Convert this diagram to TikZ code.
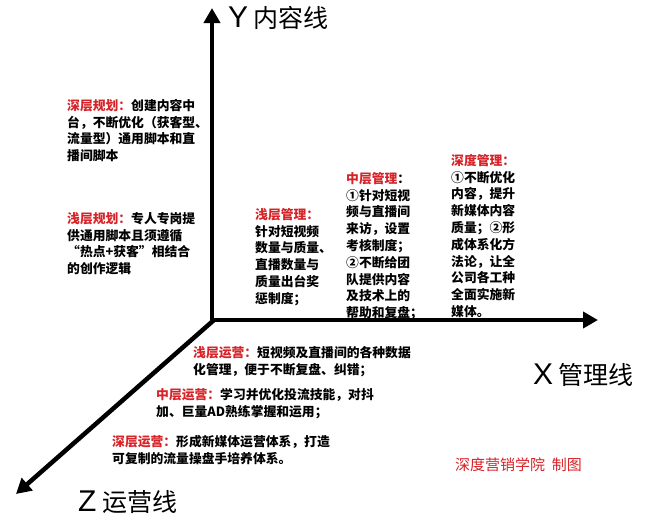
\documentclass[tikz,border=0pt]{standalone}
\usepackage{fontspec}
\setmainfont{Noto Sans CJK SC}
\newfontfamily\lab{Liberation Sans}
\usetikzlibrary{arrows.meta,calc}
\definecolor{rd}{RGB}{215,35,40}
\begin{document}
\begin{tikzpicture}[x=1pt,y=-1pt,
  axis/.style={line width=4.5pt,-{Triangle[length=15pt,width=16pt]}},
  txt/.style={anchor=north west,align=left,inner sep=0pt,font=\fontsize{12.8}{16.8}\selectfont\bfseries},
  big/.style={anchor=west,inner sep=0pt,font=\fontsize{25}{28}\selectfont}]
\useasboundingbox (0,0) rectangle (660,530);
\fill[white] (0,0) rectangle (660,530);
\coordinate (O) at (212,320);
\coordinate (Ye) at (212,8);
\coordinate (Xe) at (598,320);
\coordinate (Ze) at (16,494);
\draw[axis] (O) -- (Ye);
\draw[axis] (O) -- (Xe);
\draw[axis] ($(O)+(2,0)$) -- (Ze);
\node[big] (yl) at (228,18) {{\lab\fontsize{30}{30}\selectfont Y} 内容线};
\node[big] (xl) at (533,375) {{\lab\fontsize{30}{30}\selectfont X} 管理线};
\node[big] (zl) at (78,502) {{\lab\fontsize{30}{30}\selectfont Z} 运营线};
\node[anchor=west,inner sep=0pt,text=rd,font=\fontsize{15}{17}\selectfont] (cr) at (455,465) {深度营销学院\ \ 制图};
\node[txt] (a1) at (67,99) {\textcolor{rd}{深层规划：}创建内容中\\台，不断优化（获客型、\\流量型）通用脚本和直\\播间脚本};
\node[txt] (a2) at (67,212) {\textcolor{rd}{浅层规划：}专人专岗提\\供通用脚本且须遵循\\“热点+获客”相结合\\的创作逻辑};
\node[txt] (b1) at (255,208) {\textcolor{rd}{浅层管理：}\\针对短视频\\数量与质量、\\直播数量与\\质量出台奖\\惩制度；};
\node[txt] (b2) at (346,172) {\textcolor{rd}{中层管理}：\\①针对短视\\频与直播间\\来访，设置\\考核制度；\\②不断给团\\队提供内容\\及技术上的\\帮助和复盘；};
\node[txt] (b3) at (451,154) {\textcolor{rd}{深度管理：}\\①不断优化\\内容，提升\\新媒体内容\\质量；②形\\成体系化方\\法论，让全\\公司各工种\\全面实施新\\媒体。};
\node[txt] (c1) at (193,346) {\textcolor{rd}{浅层运营：}短视频及直播间的各种数据\\化管理，便于不断复盘、纠错；};
\node[txt] (c2) at (156,388) {\textcolor{rd}{中层运营：}学习并优化投流技能，对抖\\加、巨量AD熟练掌握和运用；};
\node[txt] (c3) at (112,435) {\textcolor{rd}{深层运营：}形成新媒体运营体系，打造\\可复制的流量操盘手培养体系。};
\end{tikzpicture}
\end{document}
